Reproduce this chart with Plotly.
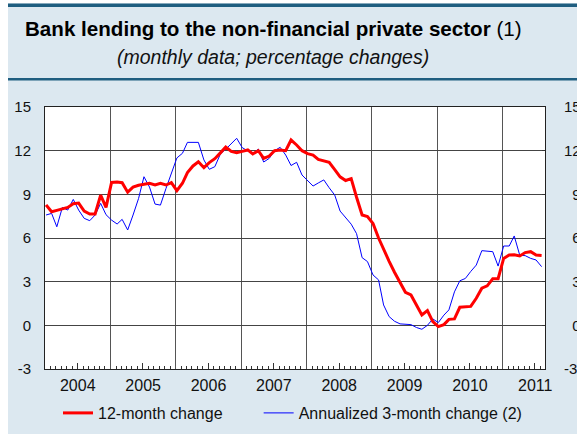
import plotly.graph_objects as go

# ---------------- data ----------------
months = [f"{2004 + i // 12}-{i % 12 + 1:02d}-07" for i in range(92)]  # Jan 2004 .. Aug 2011

twelve_month = [
    8.27, 7.8, 7.9, 8.0, 8.1, 8.35, 8.4, 7.85, 7.65, 7.65, 8.95, 8.1,        # 2004
    9.82, 9.85, 9.8, 9.15, 9.5, 9.62, 9.7, 9.76, 9.64, 9.76, 9.64, 9.8,      # 2005
    9.25, 9.76, 10.5, 10.95, 11.24, 10.83, 11.18, 11.45, 11.85, 12.25, 11.95, 11.86,  # 2006
    11.95, 12.05, 11.77, 12.0, 11.47, 11.63, 12.0, 12.05, 12.0, 12.73, 12.39, 12.0,   # 2007
    11.8, 11.7, 11.4, 11.3, 11.2, 10.7, 10.2, 9.95, 10.08, 8.8, 7.58, 7.47,  # 2008
    7.0, 6.0, 5.2, 4.4, 3.65, 2.9, 2.27, 2.09, 1.4, 0.71, 1.01, 0.26,        # 2009
    -0.09, 0.05, 0.41, 0.44, 1.24, 1.25, 1.3, 1.86, 2.55, 2.71, 3.2, 3.2,    # 2010
    4.6, 4.83, 4.85, 4.77, 5.0, 5.06, 4.83, 4.8,                            # 2011
]

annualized_3m = [
    7.58, 7.69, 6.77, 8.1, 7.92, 8.65, 7.92, 7.35, 7.19, 7.58, 8.38, 7.6,   # 2004
    7.23, 6.96, 7.28, 6.55, 7.58, 8.72, 10.21, 9.5, 8.33, 8.26, 9.4, 10.4,  # 2005
    11.5, 11.82, 12.57, 12.57, 12.57, 11.36, 10.72, 10.9, 11.77, 12.1, 12.5, 12.85,  # 2006
    12.21, 12.0, 11.77, 12.11, 11.22, 11.47, 12.0, 12.23, 11.7, 10.98, 11.2, 10.33,  # 2007
    9.95, 9.57, 9.78, 9.99, 9.45, 8.95, 7.85, 7.36, 6.95, 6.3, 4.65, 4.38,   # 2008
    3.46, 3.12, 1.4, 0.6, 0.28, 0.1, 0.05, 0.05, -0.15, -0.27, 0.0, 0.44,    # 2009
    0.19, 0.7, 1.06, 2.3, 3.06, 3.22, 3.7, 4.14, 5.13, 5.1, 5.06, 4.07,      # 2010
    5.45, 5.45, 6.14, 4.81, 4.79, 4.6, 4.49, 4.03,                          # 2011
]

y_ticks = [-3, 0, 3, 6, 9, 12, 15]
y_tick_left = ["-3", "0", "3", "6", "9", "12", "15"]
y_tick_right = ["-3", "\u20070", "\u20073", "\u20076", "\u20079", "12", "15"]
mid_year = [f"{y}-07-01" for y in range(2004, 2012)]

name_red = "12-month change" + "\u00a0" * 7
name_blue = "Annualized 3-month change (2)"
title = "<b>Bank lending to the non-financial private sector</b> (1)"
subtitle = "<i>(monthly data; percentage changes)</i>"

# ---------------- layout helpers ----------------
W, H = 577, 434
L, R, T, B = 45, 32, 107, 65
PW, PH = W - L - R, H - T - B
X_RANGE = ["2004-01-01", "2011-08-26"]
BG = "#dce8f0"
DARK = "#1f5e80"
FONT = "Liberation Sans, Arial, Helvetica, sans-serif"


def px(x):
    return (x - L) / PW


def py(y):
    return (H - B - y) / PH


fig = go.Figure()
fig.add_trace(go.Scatter(x=months, y=annualized_3m, name=name_blue, mode="lines",
                         line=dict(color="#0000ff", width=1), xaxis="x", yaxis="y"))
fig.add_trace(go.Scatter(x=months, y=twelve_month, name=name_red, mode="lines",
                         line=dict(color="#ff0000", width=3), xaxis="x2", yaxis="y2"))

y_font = dict(family=FONT, size=15, color="#111")
x_font = dict(family=FONT, size=16, color="#111")

fig.update_layout(
    width=W, height=H,
    margin=dict(l=L, r=R, t=T, b=B, autoexpand=False),
    paper_bgcolor=BG, plot_bgcolor="white",
    font=dict(family=FONT, size=14, color="#111"),
    showlegend=True,
    legend=dict(orientation="h", xref="container", yref="container",
                x=58 / W, y=1 - 413 / H, xanchor="left", yanchor="middle",
                bgcolor="rgba(0,0,0,0)", font=dict(family=FONT, size=16, color="#111"),
                traceorder="reversed", itemwidth=30),
    xaxis=dict(type="date", range=X_RANGE, dtick="M12", tick0="2004-01-01",
               ticklabelmode="period", tickformat="%Y", ticks="", showgrid=True,
               gridcolor="#555", gridwidth=1, tickfont=x_font, ticklabelstandoff=2,
               showline=True, linecolor="#222", linewidth=1, mirror=True, zeroline=False,
               automargin=False,
               minor=dict(dtick="M1", tick0="2004-01-01", ticks="inside", ticklen=3,
                          tickcolor="#333", tickwidth=1, showgrid=False)),
    xaxis2=dict(type="date", range=X_RANGE, overlaying="x", matches="x", anchor="y",
                side="bottom", tickvals=mid_year, ticks="inside", ticklen=6,
                tickcolor="#333", showticklabels=False, showgrid=False, showline=False,
                zeroline=False, automargin=False),
    yaxis=dict(range=[-3, 15], tickvals=y_ticks, ticktext=y_tick_left, showgrid=True,
               gridcolor="#444", gridwidth=1, ticks="", tickfont=y_font,
               ticklabelstandoff=10, showline=True, linecolor="#222", linewidth=1,
               mirror=True, zeroline=False, automargin=False),
    yaxis2=dict(range=[-3, 15], overlaying="y", matches="y", anchor="x", side="right",
                tickvals=y_ticks, ticktext=y_tick_right, ticks="inside", ticklen=3,
                tickcolor="#333", showgrid=False, tickfont=y_font, ticklabelstandoff=18,
                showline=False, zeroline=False, automargin=False),
)

shapes = [
    dict(type="rect", xref="paper", yref="paper", x0=px(0), x1=px(8), y0=py(H), y1=py(0),
         fillcolor="white", line=dict(width=0)),
    dict(type="rect", xref="paper", yref="paper", x0=px(0), x1=px(W), y0=py(3.5), y1=py(0),
         fillcolor="white", line=dict(width=0)),
    dict(type="rect", xref="paper", yref="paper", x0=px(8), x1=px(W), y0=py(7), y1=py(3.5),
         fillcolor=DARK, line=dict(width=0)),
    dict(type="rect", xref="paper", yref="paper", x0=px(8), x1=px(W), y0=py(80.5), y1=py(78),
         fillcolor=DARK, line=dict(width=0)),
]
fig.update_layout(shapes=shapes)

fig.add_annotation(text=title, xref="paper", yref="paper", x=px(273), y=py(28),
                   xanchor="center", yanchor="middle", showarrow=False,
                   font=dict(family=FONT, size=20.6, color="#000"))
fig.add_annotation(text=subtitle, xref="paper", yref="paper", x=px(273), y=py(57),
                   xanchor="center", yanchor="middle", showarrow=False,
                   font=dict(family=FONT, size=19.5, color="#111"))

fig.write_html("out.html")
